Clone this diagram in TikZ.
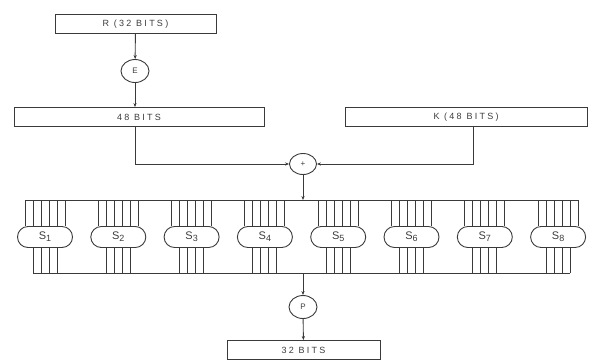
\documentclass[tikz,border=0pt]{standalone}
\usepackage{fontspec}
\setmainfont{Liberation Sans}
\newfontfamily\spacedfont[LetterSpace=25]{Liberation Sans}
\usetikzlibrary{shapes.geometric, shapes.misc, arrows.meta, positioning}
\definecolor{inkgray}{HTML}{3a3a3a}
\definecolor{textgray}{HTML}{3c3c3c}

\begin{document}
\begin{tikzpicture}[x=1pt, y=-1pt, inkgray, line width=0.9pt,
	bitbox/.style={draw, minimum height=19pt, inner sep=0pt, text=textgray, font=\spacedfont\fontsize{9}{10}\selectfont},
	opnode/.style={draw, ellipse, minimum width=28pt, minimum height=23pt, inner sep=0pt, text=textgray, font=\spacedfont\fontsize{8}{9}\selectfont},
	sbox/.style={draw, rounded rectangle, minimum width=55pt, minimum height=21pt, inner sep=0pt, text=textgray, font=\fontsize{11}{12}\selectfont},
	flow/.style={-{Stealth[length=4pt, width=3.2pt]}}]
						\useasboundingbox (0,0) rectangle (591,360);
						\node[bitbox, minimum width=161pt] (rin) at (135.5,24) {R (32 BITS)};
						\node[opnode] (expand) at (135,71) {E};
						\node[bitbox, minimum width=250pt] (wide) at (139,117) {48 BITS};
						\node[bitbox, minimum width=242pt] (key) at (466,117) {K (48 BITS)};
						\node[opnode, minimum width=27pt, minimum height=21pt] (xor) at (303,164) {+};
						\node[opnode] (perm) at (303,307) {P};
						\node[bitbox, minimum width=153pt] (rout) at (303.5,350) {32 BITS};
						\coordinate (topl) at (25,200);
						\coordinate (topr) at (578,200);
						\coordinate (botl) at (33,273);
						\coordinate (botr) at (570,273);
						\draw[flow] (rin) -- (expand);
						\draw[flow] (expand) -- (expand |- wide.north);
						\draw[flow] (expand |- wide.south) |- (xor);
						\draw[flow] (key.south -| 473,0) |- (xor);
						\draw (topl) -- (topr);
						\draw (botl) -- (botr);
						\draw[flow] (xor) -- (xor |- topl);
						\draw[flow] (xor |- botl) -- (perm);
						\draw[flow] (perm) -- (rout);
						% the eight S-boxes
						\foreach \i in {1,...,8}{
							\node[sbox] (s\i) at ({45+73.3*(\i-1)},237) {S\raisebox{-0.35ex}{\fontsize{9}{10}\selectfont\i}};
							\foreach \o in {-20,-12,-4,4,12,20}
								\draw ([xshift=\o pt]s\i.north) -- ([xshift=\o pt]s\i.north |- topl);
							\foreach \o in {-12,-4,4,12}
								\draw ([xshift=\o pt]s\i.south) -- ([xshift=\o pt]s\i.south |- botl);
						}
					\end{tikzpicture}
\end{document}
